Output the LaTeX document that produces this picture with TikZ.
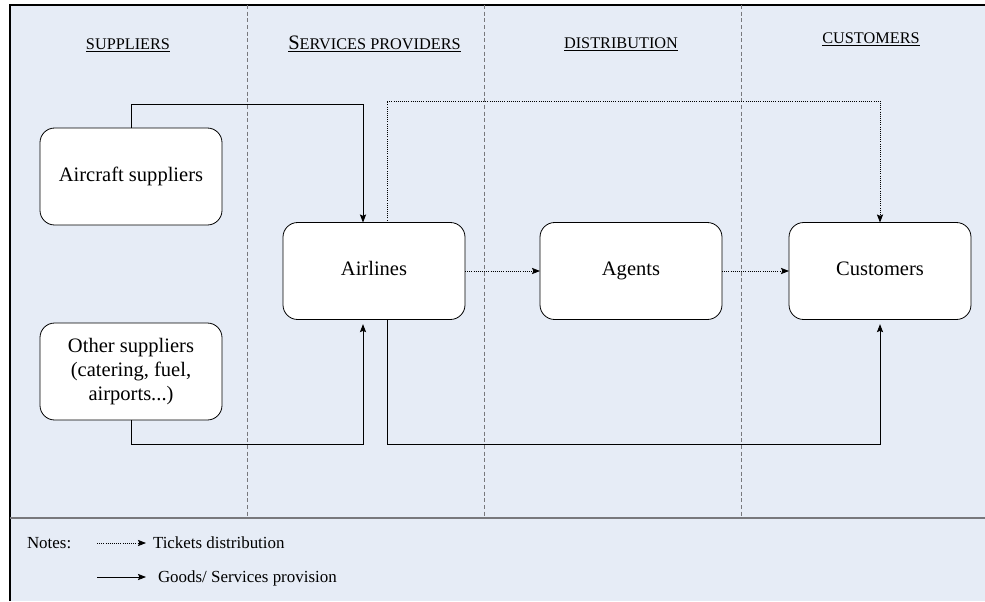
\documentclass[tikz,border=0pt]{standalone}
\usepackage{fontspec}
\setmainfont{Liberation Serif}
\usetikzlibrary{arrows.meta,calc}

\definecolor{panel}{RGB}{230,236,246}
\definecolor{divider}{RGB}{120,120,124}

% fake small caps: capital letters set a size smaller
\newcommand{\hdcaps}[1]{{\fontsize{12.2}{14}\selectfont #1}}

\begin{document}
\begin{tikzpicture}[x=0.75pt,y=-0.75pt,
  every node/.style={inner sep=0pt, outer sep=0pt},
  box/.style={draw=black, fill=white, rounded corners=11pt, line width=0.6pt,
    minimum width=136.5pt, minimum height=72.75pt, align=center,
    font=\fontsize{15.4}{18}\selectfont},
  oneline/.style={text height=10.5pt, text depth=3.5pt},
  header/.style={anchor=base, font=\fontsize{15.4}{18}\selectfont},
  lane/.style={draw=divider, densely dashed, line width=0.6pt},
  tip/.style={-{Stealth[length=6pt,width=4.6pt,inset=1pt]}},
  goods/.style={tip, draw=black, line width=0.6pt},
  tickets/.style={tip, draw=black, densely dotted, line width=0.6pt},
  note/.style={anchor=base west, font=\fontsize{12.7}{15}\selectfont}]

% canvas and frame
\useasboundingbox (0,0) rectangle (985,601);
\fill[panel] (10,5) rectangle (985,601);
\draw[black, line width=0.9pt] (10,601) -- (10,5) -- (985,5);
\draw[divider, line width=1.2pt] (10,518) -- (985,518);

% swim-lane separators
\foreach \xx in {247,484,741} \draw[lane] (\xx,5) -- (\xx,518);

% lane headings
\node[header] (hsup) at (128,49) {\underline{\hdcaps{SUPPLIERS}}};
\node[header] (hsvc) at (374.5,49) {\underline{S\hdcaps{ERVICES PROVIDERS}}};
\node[header] (hdis) at (621,48) {\underline{\hdcaps{DISTRIBUTION}}};
\node[header] (hcus) at (871,43) {\underline{\hdcaps{CUSTOMERS}}};

% actors
\node[box, oneline] (air) at (131,176.5) {Aircraft suppliers};
\node[box] (oth) at (131,371.5) {Other suppliers\\(catering, fuel,\\airports...)};
\node[box, oneline] (airl) at (374,271) {Airlines};
\node[box, oneline] (agt) at (631,271) {Agents};
\node[box, oneline] (cus) at (880,271) {Customers};

% routing levels and attachment points
\coordinate (ytop) at (0,104);
\coordinate (ydot) at (0,101);
\coordinate (ybot) at (0,444);
\coordinate (inT) at ($(airl.north)+(-11,0)$);
\coordinate (outT) at ($(airl.north)+(13,0)$);
\coordinate (inB) at ($(airl.south)+(-11,0)$);
\coordinate (outB) at ($(airl.south)+(13,0)$);

% goods / services provision
\draw[goods] (air.north) |- (ytop -| inT) -- (inT);
\draw[goods, shorten >=3.5pt] (oth.south) |- (ybot -| inB) -- (inB);
\draw[goods, shorten >=3.5pt] (outB) |- (ybot -| cus.south) -- (cus.south);

% tickets distribution
\draw[tickets] (outT) |- (ydot -| cus.north) -- (cus.north);
\draw[tickets] (airl.east) -- (agt.west);
\draw[tickets] (agt.east) -- (cus.west);

% legend
\node[note] (notes) at (27,548) {Notes:};
\coordinate (l1a) at (97,543);
\coordinate (l1b) at (146,543);
\coordinate (l2a) at (97,577);
\coordinate (l2b) at (146,577);
\draw[tickets] (l1a) -- (l1b);
\draw[goods] (l2a) -- (l2b);
\node[note] (ntix) at (153,548) {Tickets distribution};
\node[note] (ngood) at (158,582) {Goods/ Services provision};
\end{tikzpicture}
\end{document}
